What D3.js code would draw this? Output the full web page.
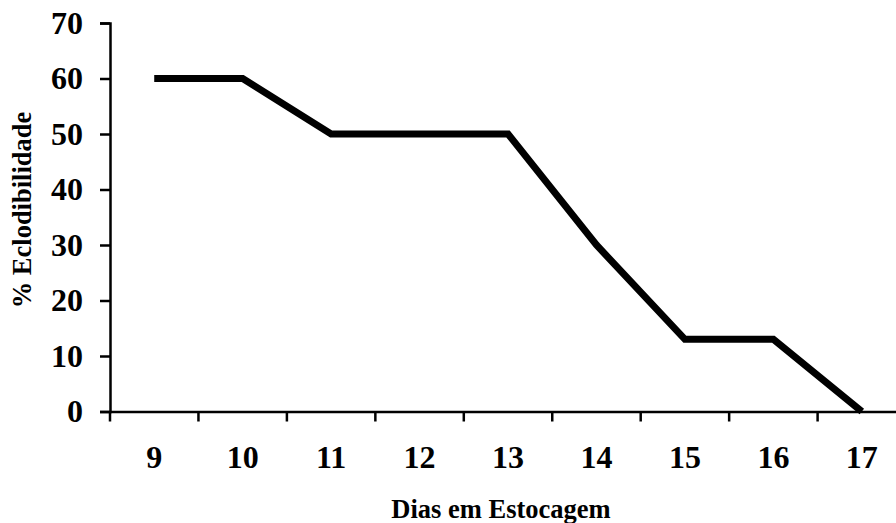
<!DOCTYPE html>
<html><head><meta charset="utf-8">
<script src="https://cdn.jsdelivr.net/npm/d3@7"></script>
<style>body{margin:0;background:#fff}svg{display:block}</style>
</head><body>
<script>
const categories = ["9","10","11","12","13","14","15","16","17"];
const values = [60, 60, 50, 50, 50, 30, 13, 13, 0];
const yTicks = [0, 10, 20, 30, 40, 50, 60, 70];

const W = 896, H = 523;
const mLeft = 110, bandW = 88.45, mBottom = 411.5, mTop = 23;
const svg = d3.select("body").append("svg").attr("width", W).attr("height", H);
const font = "'Liberation Serif','Times New Roman',serif";

const x = d3.scaleBand().domain(categories).range([mLeft, mLeft + bandW * categories.length]).paddingInner(0).paddingOuter(0);
const y = d3.scaleLinear().domain([0, 70]).range([mBottom, mTop]);

// y axis
const ya = svg.append("g").attr("transform", `translate(${mLeft},0)`)
  .call(d3.axisLeft(y).tickValues(yTicks).tickSize(10).tickPadding(17));
ya.select(".domain").attr("stroke", "#000").attr("stroke-width", 2.5);
ya.selectAll(".tick line").attr("stroke", "#000").attr("stroke-width", 2.5);
ya.selectAll(".tick text").attr("font-family", font).attr("font-weight", "bold").attr("font-size", 32).attr("fill", "#000");

// x axis
const xa = svg.append("g").attr("transform", `translate(0,${mBottom})`)
  .call(d3.axisBottom(x).tickSize(0).tickPadding(34));
xa.select(".domain").attr("stroke", "#000").attr("stroke-width", 2.5);
xa.selectAll(".tick text").attr("font-family", font).attr("font-weight", "bold").attr("font-size", 32).attr("fill", "#000");
xa.selectAll(".bound").data(categories).enter().append("line")
  .attr("x1", d => x(d)).attr("x2", d => x(d))
  .attr("y1", 0).attr("y2", 10).attr("stroke", "#000").attr("stroke-width", 2.5);

// line
const line = d3.line().x((d, i) => x(categories[i]) + x.bandwidth() / 2).y(d => y(d));
svg.append("path").datum(values).attr("d", line)
  .attr("fill", "none").attr("stroke", "#000").attr("stroke-width", 7).attr("stroke-linejoin", "miter");

// titles
svg.append("text").attr("x", 501).attr("y", 518).attr("text-anchor", "middle")
  .attr("font-family", font).attr("font-weight", "bold").attr("font-size", 26.5).text("Dias em Estocagem");
svg.append("text").attr("transform", "translate(31,210) rotate(-90)").attr("text-anchor", "middle")
  .attr("font-family", font).attr("font-weight", "bold").attr("font-size", 26.5).text("% Eclodibilidade");
</script>
</body></html>
